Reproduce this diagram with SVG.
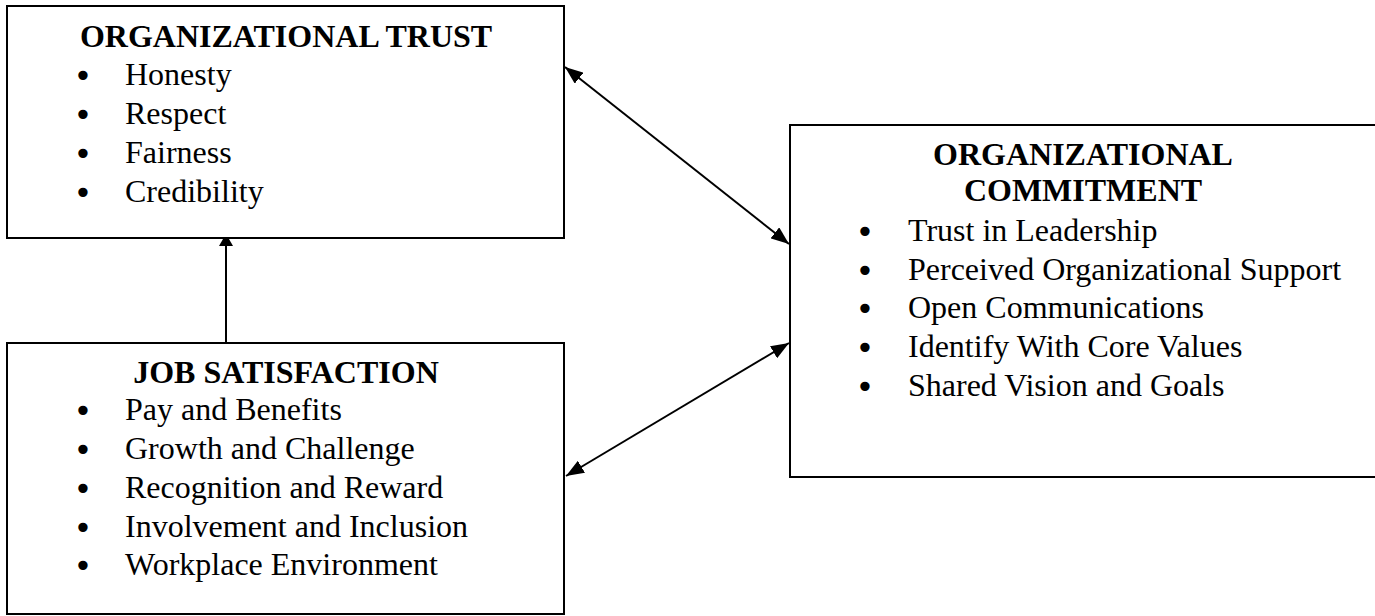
<svg xmlns="http://www.w3.org/2000/svg" width="1375" height="616" viewBox="0 0 1375 616">
<style>
.box{fill:#fff;stroke:#000;stroke-width:2}
.t{font-family:"Liberation Serif","Times New Roman",serif;font-size:32px;fill:#000}
.h{font-weight:bold;text-anchor:middle}
.b{text-anchor:middle;font-family:"DejaVu Sans",sans-serif;font-size:32px}
.c{stroke:#000;stroke-width:2;fill:none}
</style>
<defs>
<marker id="ah" markerUnits="userSpaceOnUse" markerWidth="18" markerHeight="14" refX="18" refY="7" orient="auto-start-reverse">
<path d="M0,0 L18,7 L0,14 z" fill="#000"/>
</marker>
</defs>
<rect width="1375" height="616" fill="#fff"/>
<g id="trust">
<rect class="box" x="7" y="6" width="557" height="232"/>
<text class="t h" x="286" y="47">ORGANIZATIONAL TRUST</text>
<text class="t b" x="83" y="87">•</text><text class="t" x="125" y="85">Honesty</text>
<text class="t b" x="83" y="126">•</text><text class="t" x="125" y="124">Respect</text>
<text class="t b" x="83" y="165">•</text><text class="t" x="125" y="163">Fairness</text>
<text class="t b" x="83" y="204">•</text><text class="t" x="125" y="202">Credibility</text>
</g>
<g id="satisfaction">
<rect class="box" x="7" y="343" width="557" height="271"/>
<text class="t h" x="286" y="383">JOB SATISFACTION</text>
<text class="t b" x="83" y="422">•</text><text class="t" x="125" y="420">Pay and Benefits</text>
<text class="t b" x="83" y="461">•</text><text class="t" x="125" y="459">Growth and Challenge</text>
<text class="t b" x="83" y="500">•</text><text class="t" x="125" y="498">Recognition and Reward</text>
<text class="t b" x="83" y="539">•</text><text class="t" x="125" y="537">Involvement and Inclusion</text>
<text class="t b" x="83" y="577">•</text><text class="t" x="125" y="575">Workplace Environment</text>
</g>
<g id="commitment">
<rect class="box" x="790" y="125" width="588" height="352"/>
<text class="t h" x="1083" y="165">ORGANIZATIONAL</text>
<text class="t h" x="1083" y="201">COMMITMENT</text>
<text class="t b" x="865" y="243">•</text><text class="t" x="908" y="241">Trust in Leadership</text>
<text class="t b" x="865" y="282">•</text><text class="t" x="908" y="280">Perceived Organizational Support</text>
<text class="t b" x="865" y="320">•</text><text class="t" x="908" y="318">Open Communications</text>
<text class="t b" x="865" y="359">•</text><text class="t" x="908" y="357">Identify With Core Values</text>
<text class="t b" x="865" y="398">•</text><text class="t" x="908" y="396">Shared Vision and Goals</text>
</g>
<g id="connectors">
<line class="c" x1="565" y1="67" x2="789" y2="244" marker-start="url(#ah)" marker-end="url(#ah)"/>
<line class="c" x1="566" y1="476" x2="789" y2="343" marker-start="url(#ah)" marker-end="url(#ah)"/>
<line class="c" x1="226" y1="343" x2="226" y2="240"/>
<polygon points="219,246 233,246 229,239 223,239" fill="#000"/>
</g>
</svg>
